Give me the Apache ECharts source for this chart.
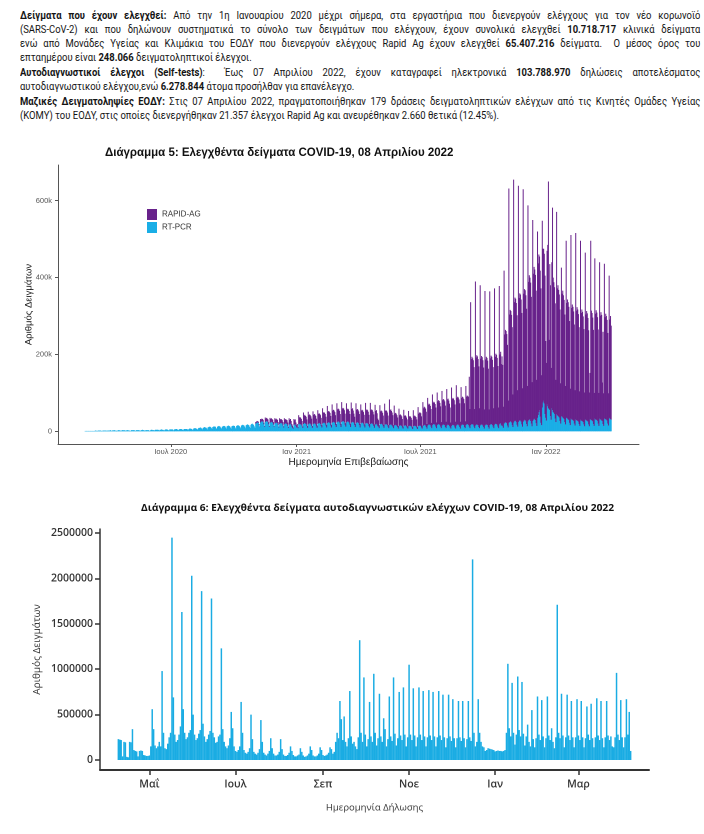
<!DOCTYPE html>
<html>
<head>
<meta charset="utf-8">
<script src="https://cdn.jsdelivr.net/npm/echarts@6/dist/echarts.min.js"></script>
<style>
html,body{margin:0;padding:0;background:#fff;}
#wrap{position:relative;width:704px;height:834px;overflow:hidden;background:#fff;}
#chart{position:absolute;left:0;top:0;width:704px;height:834px;}
.ln{position:absolute;left:20px;font-family:Roboto,"Noto Sans",sans-serif;font-size:10.5px;line-height:14px;color:#141414;white-space:nowrap;transform-origin:0 0;transform:scaleX(0.9);}
.j{width:756px;text-align:justify;text-align-last:justify;white-space:normal;height:14px;overflow:hidden;}
.ln b{font-weight:700;}
</style>
</head>
<body>
<div id="wrap">
<div class="ln j" style="top:9px"><b>Δείγματα που έχουν ελεγχθεί:</b> Από την 1η Ιανουαρίου 2020 μέχρι σήμερα, στα εργαστήρια που διενεργούν ελέγχους για τον νέο κορωνοϊό</div>
<div class="ln j" style="top:23px">(SARS-CoV-2) και που δηλώνουν συστηματικά το σύνολο των δειγμάτων που ελέγχουν, έχουν συνολικά ελεγχθεί <b>10.718.717</b> κλινικά δείγματα</div>
<div class="ln j" style="top:37px">ενώ από Μονάδες Υγείας και Κλιμάκια του ΕΟΔΥ που διενεργούν ελέγχους Rapid Ag έχουν ελεγχθεί <b>65.407.216</b> δείγματα.&nbsp; Ο μέσος όρος του</div>
<div class="ln" style="top:51px">επταημέρου είναι <b>248.066</b> δειγματοληπτικοί έλεγχοι.</div>
<div class="ln j" style="top:66px"><b>Αυτοδιαγνωστικοί έλεγχοι (Self-tests)</b>:&nbsp; Έως 07 Απριλίου 2022, έχουν καταγραφεί ηλεκτρονικά <b>103.788.970</b> δηλώσεις αποτελέσματος</div>
<div class="ln" style="top:80px">αυτοδιαγνωστικού ελέγχου,ενώ <b>6.278.844</b> άτομα προσήλθαν για επανέλεγχο.</div>
<div class="ln j" style="top:95px"><b>Μαζικές Δειγματοληψίες ΕΟΔΥ:</b> Στις 07 Απριλίου 2022, πραγματοποιήθηκαν 179 δράσεις δειγματοληπτικών ελέγχων από τις Κινητές Ομάδες Υγείας</div>
<div class="ln" style="top:109px">(ΚΟΜΥ) του ΕΟΔΥ, στις οποίες διενεργήθηκαν 21.357 έλεγχοι Rapid Ag και ανευρέθηκαν 2.660 θετικά (12.45%).</div>
<div id="chart"></div>
</div>
<script>
// ---------------- DATA (daily values, in thousands) ----------------
const UNIT = 1000;

// Chart 5: RT-PCR samples per day, from Monday 2020-02-24 (rows = weeks Mon..Sun)
const pcrStart = '2020-02-24';
const pcr = [
0,0,1,1,1,1,1, 1,1,1,1,1,1,1, 1,1,1,2,2,1,1, 2,2,2,2,2,1,1, 2,2,2,2,2,2,1,
2,2,2,2,3,2,1, 2,3,2,3,2,2,1, 2,2,3,3,2,2,1, 3,3,3,2,3,2,1, 3,3,3,2,2,2,1,
3,3,3,3,3,2,1, 3,3,3,3,3,2,1, 3,3,4,3,3,2,2, 3,3,3,3,3,2,1, 3,4,4,3,3,3,2,
4,4,4,4,4,3,2, 4,4,5,4,4,3,2, 4,5,5,5,4,3,2, 5,5,5,5,5,4,2, 5,5,6,6,5,4,3,
5,6,6,6,5,4,3, 6,6,6,6,6,5,3, 6,7,7,7,6,5,3, 7,8,8,8,7,6,4, 8,9,9,10,9,7,5,
9,10,11,10,10,8,5, 10,11,12,12,11,9,6, 11,12,13,12,12,9,6, 12,13,14,13,12,9,7, 12,13,14,14,13,10,7,
13,14,15,14,13,10,7, 13,14,15,14,14,10,7, 14,15,16,15,14,11,8, 15,16,17,16,15,12,8, 16,17,18,17,16,12,9,
17,19,20,18,17,13,9, 20,22,24,23,22,16,11, 23,25,27,26,24,18,12, 24,26,27,26,24,18,12, 22,24,25,24,22,17,11,
20,22,23,22,21,16,10, 19,21,22,21,20,15,10, 18,20,21,20,19,14,9, 17,19,20,17,12,9,7, 16,18,19,14,10,11,8,
18,20,19,18,17,13,9, 19,21,22,20,19,14,9, 18,20,21,20,18,14,9, 18,20,21,20,18,13,9, 19,21,22,21,19,14,10,
20,22,23,22,20,15,10, 21,23,24,23,21,15,10, 22,24,25,24,22,16,11, 23,25,26,25,23,17,11, 24,26,27,26,24,17,12,
23,25,26,25,23,17,11, 22,24,25,24,22,16,11, 21,23,24,23,21,16,10, 20,22,23,22,20,15,10, 20,21,22,21,19,14,10,
19,20,21,20,18,14,9, 17,19,20,17,13,12,8, 18,19,20,19,17,13,9, 17,18,19,18,16,12,8, 16,17,18,17,15,12,8,
15,16,17,16,14,11,7, 14,15,16,15,14,10,7, 14,15,16,15,13,10,7, 13,14,15,14,13,10,6, 13,14,15,14,13,10,6,
13,14,15,15,14,10,7, 14,15,17,16,15,11,7, 15,17,18,17,16,12,8, 16,18,19,18,17,12,8, 16,18,19,18,16,12,8,
15,17,18,17,16,11,8, 15,17,17,16,14,10,7, 14,16,17,16,15,10,7, 15,17,18,17,15,11,7, 15,17,18,17,16,11,8,
16,18,19,18,16,12,8, 16,18,19,18,17,12,8, 15,17,18,17,16,11,8, 15,17,18,17,15,11,7, 15,17,18,17,16,11,7,
16,18,19,18,16,12,8, 17,19,20,19,17,12,8, 18,20,21,15,17,13,9, 20,22,24,23,21,15,10, 22,24,26,25,23,16,11,
23,26,28,27,24,17,12, 24,27,29,28,25,18,12, 25,28,30,29,26,19,13, 26,29,31,30,27,20,13, 27,30,33,31,29,21,14,
35,42,50,55,38,22,16, 62,75,80,72,45,35,28, 70,65,60,58,55,40,30, 60,55,50,48,45,33,24, 45,42,40,38,36,27,20,
40,38,36,34,32,24,18, 36,34,33,31,29,22,16, 33,31,30,29,27,20,15, 31,29,28,27,25,19,14, 30,28,27,26,24,18,13,
31,29,28,27,25,18,13, 32,30,29,28,26,19,14, 33,31,30,29,27,20,14, 33,31,30,28,27,19,14, 34,32,31,30,28,20,15,
35,33,32,30
];

// Chart 5: RAPID-AG samples per day, from Monday 2020-11-02 (rows = weeks Mon..Sun)
const rapidStart = '2020-11-02';
const rapid = [
4,3,3,3,3,3,1, 9,6,6,6,6,5,2, 12,7,8,7,7,6,2, 13,8,9,8,8,7,2,
14,9,10,9,9,8,2, 15,10,10,10,9,9,3, 16,10,11,10,10,9,3, 17,11,12,10,7,6,3, 16,11,12,9,6,8,3,
24,16,18,17,15,14,4, 30,20,21,20,19,17,5, 33,22,23,22,21,19,5, 34,23,24,23,22,20,6, 36,24,25,24,23,21,6,
40,26,27,26,25,23,7, 45,28,29,28,27,25,7, 48,30,31,30,28,26,8, 50,32,33,32,30,28,8, 52,33,34,33,31,29,9,
50,32,33,32,30,28,9, 53,34,35,30,24,22,9, 52,33,34,33,31,29,9, 50,32,33,32,30,28,8, 54,34,35,34,32,29,9,
55,35,36,35,33,30,9, 52,34,35,30,20,17,8, 50,33,34,33,31,28,8, 55,35,36,35,33,29,8, 67,38,39,36,34,30,8,
52,30,31,30,28,25,7, 45,27,28,27,25,22,6, 42,25,26,25,23,21,6, 40,24,25,24,22,20,6, 42,25,26,25,24,21,6,
50,32,34,34,33,29,8, 62,45,47,46,44,40,12, 72,52,54,53,50,46,14, 80,56,58,57,54,50,15, 85,60,62,61,58,53,16,
90,64,66,65,62,56,17, 95,66,68,64,58,52,16, 100,68,70,69,66,60,18, 105,70,72,71,68,62,18, 100,70,72,71,68,62,18,
102,72,74,73,74,130,50, 320,170,175,172,168,155,50, 375,175,180,178,172,158,52, 365,172,178,176,170,155,50, 350,170,176,174,168,152,50,
348,172,178,176,170,155,52, 355,175,182,180,174,158,54, 360,180,186,160,178,160,55, 398,230,240,238,232,210,70, 610,280,290,288,280,255,85,
632,310,320,318,310,285,95, 615,320,330,328,318,290,100, 605,330,340,338,328,300,105, 562,360,375,370,360,330,115, 523,380,395,390,378,345,120,
485,395,410,400,380,350,130, 486,400,395,390,360,200,150, 400,420,590,180,380,340,135, 380,527,350,340,330,300,110, 526,330,340,330,320,290,105,
386,320,330,320,310,280,100, 460,300,310,305,295,265,95, 478,290,300,295,285,258,92, 485,285,295,290,280,252,90, 466,280,290,285,275,248,88,
434,275,285,280,270,245,88, 120,466,285,280,270,245,86, 417,275,285,280,270,245,86, 407,270,280,275,100,240,85, 402,265,275,270,262,236,84,
370,258,268,245
];

// Chart 6: self-test declarations per day, from Friday 2021-04-09 (rows = Fri..Thu)
const selfStart = '2021-04-09';
const selfTests = [
230,225,220,40,200,195,35, 30,200,195,340,110,100,95, 40,100,105,100,55,50,45, 45,50,150,560,340,160,130, 150,200,150,980,300,130,120,
180,250,300,2450,690,280,200, 220,280,370,1630,560,300,230, 250,300,330,2030,500,280,220, 240,290,330,1860,400,260,200, 230,280,320,1780,300,250,190,
200,260,280,1230,340,200,150, 130,160,240,530,350,150,100, 90,110,150,640,300,110,80, 70,90,130,500,230,90,70, 60,80,120,440,200,80,60,
50,70,100,240,130,70,50, 50,60,90,230,120,60,45, 45,55,80,150,100,55,40, 40,50,60,130,90,50,35, 40,50,70,150,110,50,40,
40,50,70,140,110,55,45, 50,60,80,140,120,70,90, 200,300,240,650,450,220,480, 200,150,240,760,260,180,200, 150,120,250,1320,300,200,910,
280,150,230,640,260,200,950, 300,160,240,730,260,200,460, 340,150,230,700,260,210,910, 290,160,240,750,270,220,800, 280,150,250,1050,280,220,790,
270,150,250,800,280,220,760, 260,150,250,770,270,220,750, 260,150,250,760,270,220,720, 250,140,240,720,260,210,670, 240,140,240,650,250,210,650,
240,140,230,650,250,210,2210, 300,150,200,670,300,200,150, 140,100,110,130,125,120,115, 110,95,100,105,100,100,95, 100,110,300,1060,350,260,850,
300,170,280,920,330,260,860, 290,160,260,390,200,150,550, 230,140,240,700,280,220,660, 260,140,240,700,270,220,350, 200,130,250,1710,300,240,730,
270,140,250,720,270,220,650, 250,140,250,670,270,220,650, 250,140,240,590,280,220,620, 240,140,250,680,270,220,650, 240,140,250,650,270,220,260,
150,140,250,960,280,220,660, 250,140,250,670,280,530,100
];

// Tick values and labels
const chart5TickDates = ['2020-07-01','2021-01-01','2021-07-01','2022-01-01'];
const chart5TickLabels = ['Ιουλ 2020','Ιαν 2021','Ιουλ 2021','Ιαν 2022'];
const chart5YTicks = [0,200000,400000,600000];
const chart5YLabels = ['0','200k','400k','600k'];
const chart6TickDates = ['2021-05-01','2021-07-01','2021-09-01','2021-11-01','2022-01-01','2022-03-01'];
const chart6TickLabels = ['Μαΐ','Ιουλ','Σεπ','Νοε','Ιαν','Μαρ'];
const chart6YTicks = [0,500000,1000000,1500000,2000000,2500000];

// ---------------- BUILD ----------------
const DAY = 86400000;
const utc = s => { const p = s.split('-').map(Number); return Date.UTC(p[0], p[1]-1, p[2]); };

const pcrT0 = utc(pcrStart);
const rapidOffset = Math.round((utc(rapidStart) - pcrT0) / DAY);
const pcrData = pcr.map((v, i) => [pcrT0 + i*DAY, v*UNIT]);
const rapidData = pcr.map((_, i) => {
  const j = i - rapidOffset;
  const v = (j >= 0 && j < rapid.length) ? rapid[j] : 0;
  return [pcrT0 + i*DAY, v*UNIT];
});
const selfT0 = utc(selfStart);
const selfData = selfTests.map((v, i) => [selfT0 + i*DAY, v*UNIT]);

const x5Ticks = chart5TickDates.map(utc);
const x6Ticks = chart6TickDates.map(utc);

const grid5 = {left:58, right:65, top:165, bottom:390};
const grid6 = {left:100, right:55, top:529, bottom:64};
const x5Min = utc('2020-01-18'), x5Max = utc('2022-05-17');
const x6Min = utc('2021-03-27'), x6Max = utc('2022-04-20');
const W = 704;
const bw5 = 1.3 * (W - grid5.left - grid5.right) / ((x5Max - x5Min) / DAY);
const bw6 = 1.05 * (W - grid6.left - grid6.right) / ((x6Max - x6Min) / DAY);

const F5 = '"Liberation Sans", Arial, sans-serif';
const F6 = '"Open Sans", "Noto Sans", sans-serif';

const chart = echarts.init(document.getElementById('chart'), null, {renderer:'canvas', devicePixelRatio: 2});
chart.setOption({
  animation: false,
  backgroundColor: 'transparent',
  title: [
    {text:'Διάγραμμα 5: Ελεγχθέντα δείγματα COVID-19, 08 Απριλίου 2022', left:105, top:147, padding:0,
     textStyle:{fontFamily:F5, fontSize:11.5, fontWeight:'bold', color:'#111'}},
    {text:'Διάγραμμα 6: Ελεγχθέντα δείγματα αυτοδιαγνωστικών ελέγχων COVID-19, 08 Απριλίου 2022', left:141, top:503, padding:0,
     textStyle:{fontFamily:F6, fontSize:10.2, fontWeight:'bold', color:'#111'}}
  ],
  legend: {
    data:['RAPID-AG','RT-PCR'], orient:'vertical', left:147, top:209, padding:0,
    itemWidth:10, itemHeight:11, itemGap:2, icon:'rect', selectedMode:false,
    textStyle:{fontFamily:F5, fontSize:8, color:'#333'}
  },
  grid: [
    Object.assign({containLabel:false}, grid5),
    Object.assign({containLabel:false}, grid6)
  ],
  xAxis: [
    {gridIndex:0, type:'value', position:'bottom', min:x5Min, max:x5Max, splitLine:{show:false},
     axisLine:{onZero:false, lineStyle:{color:'#555', width:1}},
     axisTick:{show:true, customValues:x5Ticks, length:3, lineStyle:{color:'#555'}},
     axisLabel:{customValues:x5Ticks, formatter:(v)=>chart5TickLabels[x5Ticks.indexOf(v)] || '', fontFamily:F5, fontSize:7.5, color:'#555', margin:4, hideOverlap:false},
     name:'Ημερομηνία Επιβεβαίωσης', nameLocation:'middle', nameGap:13, nameMoveOverlap:false,
     nameTextStyle:{fontFamily:F5, fontSize:10, color:'#1a1a1a'}},
    {gridIndex:0, type:'time', min:x5Min, max:x5Max, show:false, splitLine:{show:false},
     axisLine:{show:false}, axisTick:{show:false}, axisLabel:{show:false}},
    {gridIndex:1, type:'value', position:'bottom', min:x6Min, max:x6Max, splitLine:{show:false},
     axisLine:{onZero:false, lineStyle:{color:'#333', width:2}},
     axisTick:{show:true, customValues:x6Ticks, length:5, lineStyle:{color:'#333', width:1.5}},
     axisLabel:{customValues:x6Ticks, formatter:(v)=>chart6TickLabels[x6Ticks.indexOf(v)] || '', fontFamily:F6, fontSize:10.5, fontWeight:600, color:'#333', margin:9, hideOverlap:false},
     name:'Ημερομηνία Δήλωσης', nameLocation:'middle', nameGap:33, nameMoveOverlap:false,
     nameTextStyle:{fontFamily:F6, fontSize:9.5, color:'#333'}}
  ],
  yAxis: [
    {gridIndex:0, type:'value', min:-33000, max:693000, splitLine:{show:false},
     axisLine:{show:true, onZero:false, lineStyle:{color:'#555', width:1}},
     axisTick:{show:true, customValues:chart5YTicks, length:3, lineStyle:{color:'#555'}},
     axisLabel:{customValues:chart5YTicks, formatter:(v)=>chart5YLabels[chart5YTicks.indexOf(v)], fontFamily:F5, fontSize:7.5, color:'#555', margin:6},
     name:'Αριθμός Δειγμάτων', nameLocation:'middle', nameGap:24, nameMoveOverlap:false,
     nameTextStyle:{fontFamily:F5, fontSize:9.5, color:'#1a1a1a'}},
    {gridIndex:1, type:'value', min:-110000, max:2545000, splitLine:{show:false},
     axisLine:{show:true, onZero:false, lineStyle:{color:'#333', width:1.5}},
     axisTick:{show:true, customValues:chart6YTicks, length:5, lineStyle:{color:'#333', width:1.5}},
     axisLabel:{customValues:chart6YTicks, formatter:(v)=>String(v), fontFamily:F6, fontSize:10.5, fontWeight:600, color:'#333', margin:7},
     name:'Αριθμός Δειγμάτων', nameLocation:'middle', nameGap:58, nameMoveOverlap:false,
     nameTextStyle:{fontFamily:F6, fontSize:10, color:'#333'}}
  ],
  series: [
    {name:'RT-PCR', type:'bar', xAxisIndex:1, yAxisIndex:0, stack:'tests', data:pcrData,
     barWidth:bw5, itemStyle:{color:'#1AAEE6'}},
    {name:'RAPID-AG', type:'bar', xAxisIndex:1, yAxisIndex:0, stack:'tests', data:rapidData,
     barWidth:bw5, itemStyle:{color:'#68228B'}},
    {name:'Self-tests', type:'bar', xAxisIndex:2, yAxisIndex:1, data:selfData,
     barWidth:bw6, itemStyle:{color:'#1AACE3'}}
  ]
});
</script>
</body>
</html>
